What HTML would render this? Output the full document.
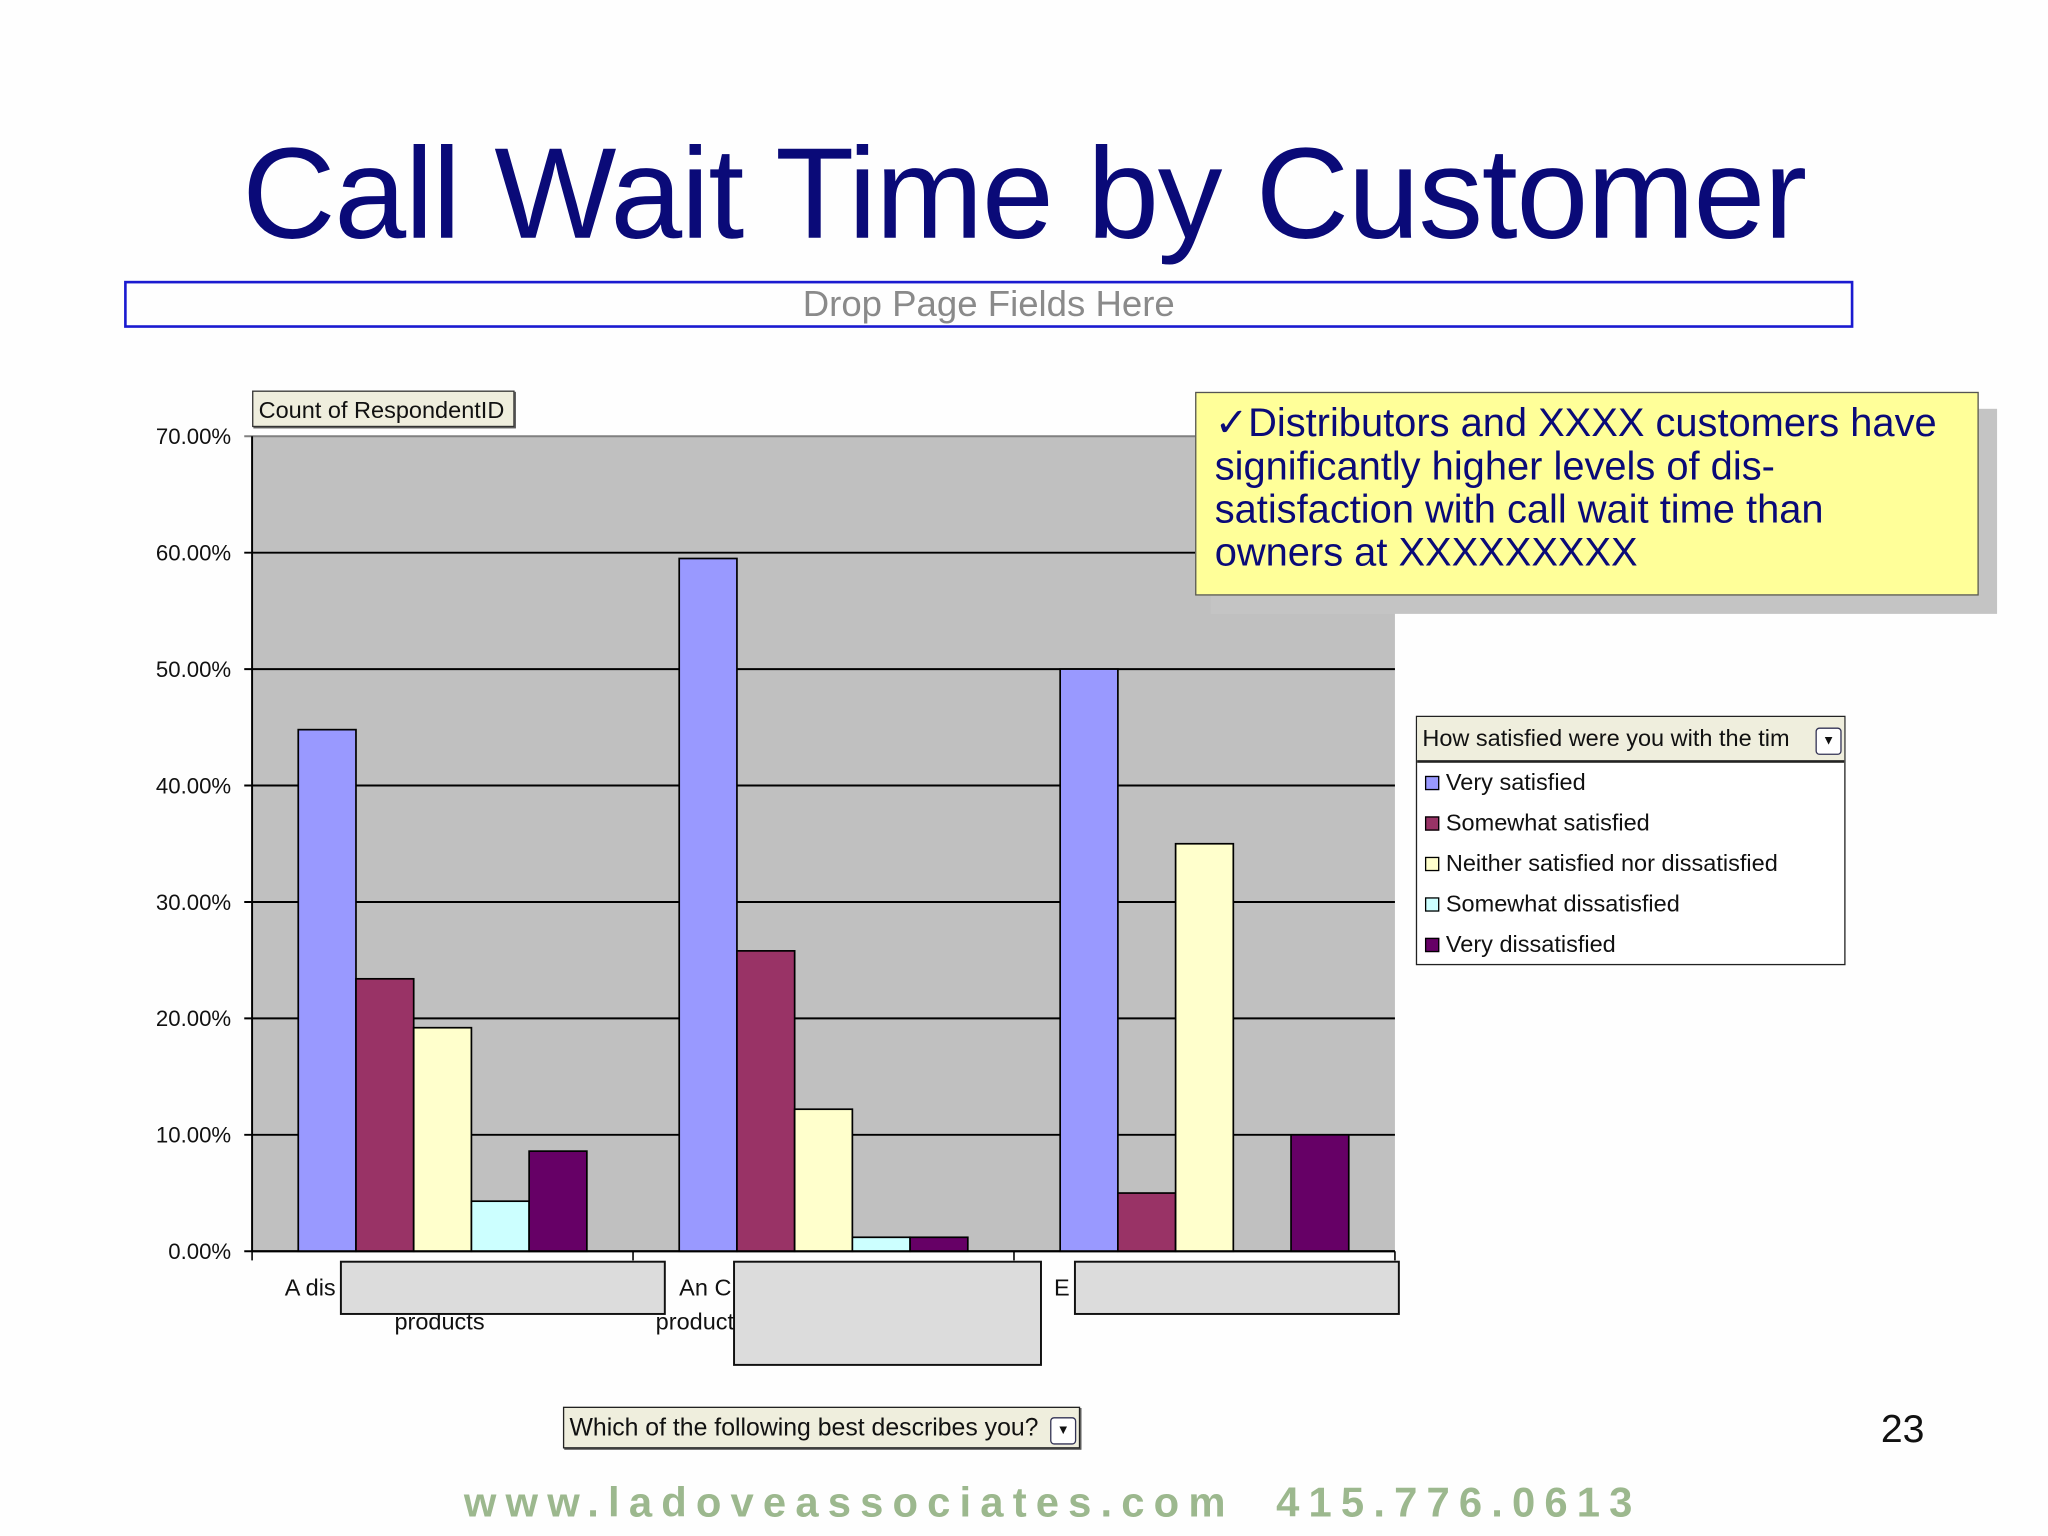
<!DOCTYPE html>
<html><head><meta charset="utf-8">
<style>
html,body{margin:0;padding:0;background:#fff;}
body{width:2048px;height:1536px;overflow:hidden;position:relative;}
#stage{position:absolute;left:0;top:0;width:1568px;height:1176px;transform:scale(1.30612);transform-origin:0 0;font-family:"Liberation Sans",sans-serif;background:#fefefe;}
.abs{position:absolute;}
</style></head>
<body>
<div id="stage">
  <div class="abs" style="left:0;width:1568px;top:88px;text-align:center;font-size:99px;color:#0a0a78;letter-spacing:-1px;padding-left:0px;line-height:120px;">Call Wait Time by Customer</div>
  <div class="abs" style="left:95px;top:215px;width:1320px;height:32px;border:2px solid #1a1ad0;text-align:center;font-size:28px;line-height:32px;color:#8a8a8a;">Drop Page Fields Here</div>
  <div class="abs" style="left:193px;top:299px;width:201px;height:28px;border:1px solid #333;box-shadow:1px 1px 0 #555;background:#efeedd;font-size:18px;line-height:28px;padding-left:4px;box-sizing:border-box;color:#111;">Count of RespondentID</div>

  <svg class="abs" style="left:0;top:0" width="1568" height="1176">
    <g id="chart"></g>
  </svg>

  <div class="abs" style="left:927px;top:313px;width:602px;height:157px;background:#c4c4c4;"></div>
  <div class="abs" style="left:915px;top:300px;width:600px;height:156px;background:#ffff99;border:1px solid #555;box-sizing:border-box;padding:7px 4px 0 14px;font-size:30.5px;line-height:33px;color:#0a0a78;white-space:nowrap;">✓Distributors and XXXX customers have<br>significantly higher levels of dis-<br>satisfaction with call wait time than<br>owners at XXXXXXXXX</div>

  <div class="abs" style="left:1084px;top:548px;width:329px;height:191px;border:1px solid #222;background:#fff;box-sizing:border-box;">
    <div style="height:33px;background:#efeedd;border-bottom:2px solid #222;font-size:18px;line-height:33px;padding-left:4px;position:relative;color:#111;">How satisfied were you with the tim<span style="position:absolute;right:2px;top:8px;width:18px;height:19px;border:1px solid #335;background:#fff;border-radius:3px;font-size:10px;line-height:19px;text-align:center;">▼</span></div>
    <div id="legend-items"></div>
  </div>

  <div class="abs" style="left:431px;top:1077px;width:396px;height:32px;border:1px solid #222;box-shadow:1px 1px 0 #555;background:#efeedd;font-size:19px;line-height:32px;padding-left:4px;box-sizing:border-box;color:#111;">Which of the following best describes you?<span style="position:absolute;right:2px;top:7px;width:18px;height:19px;border:1px solid #335;background:#fff;border-radius:3px;font-size:10px;line-height:19px;text-align:center;">▼</span></div>

  <div class="abs" style="left:1440px;top:1078px;font-size:30px;color:#111;">23</div>
  <div class="abs" style="left:0;width:1612px;top:1132px;text-align:center;font-size:32px;letter-spacing:7px;font-weight:bold;color:#9cb88e;">www.ladoveassociates.com&nbsp;&nbsp;415.776.0613</div>
</div>

<script>
const categories = ["A distributor of products", "An OEM of products", "End user"];
const seriesNames = ["Very satisfied","Somewhat satisfied","Neither satisfied nor dissatisfied","Somewhat dissatisfied","Very dissatisfied"];
const seriesColors = ["#9999ff","#993366","#ffffcc","#ccffff","#660066"];
const verySatisfied = [44.8, 59.5, 50.0];
const somewhatSatisfied = [23.4, 25.8, 5.0];
const neither = [19.2, 12.2, 35.0];
const somewhatDissatisfied = [4.3, 1.2, 0];
const veryDissatisfied = [8.6, 1.2, 10.0];
const yTicks = [0,10,20,30,40,50,60,70];
const yTickLabels = ["0.00%","10.00%","20.00%","30.00%","40.00%","50.00%","60.00%","70.00%"];

const series = [verySatisfied, somewhatSatisfied, neither, somewhatDissatisfied, veryDissatisfied];
const NS = "http://www.w3.org/2000/svg";
const L=193, R=1068, T=334, B=958, YMAX=70;
const y = v => B - (v/YMAX)*(B-T);
const catW = (R-L)/categories.length;
const x = i => L + i*catW;
const barW = catW/(series.length+1.6);
const g = document.getElementById('chart');
function mk(tag, attrs){const e=document.createElementNS(NS,tag);for(const k in attrs)e.setAttribute(k,attrs[k]);g.appendChild(e);return e;}

const bg = mk('rect',{x:L,y:T,width:R-L,height:B-T,fill:'#c0c0c0'});


yTicks.forEach((t,i)=>{
  const gl = mk('line',{x1:L-6,x2:R,y1:y(t),y2:y(t),stroke:i===yTicks.length-1?'#808080':'#000','stroke-width':1.5});
  
  
  const tx = mk('text',{x:177,y:y(t)+6,'text-anchor':'end','font-size':17,'font-family':'Liberation Sans, sans-serif',fill:'#111'});
  tx.textContent = yTickLabels[i];
  
  
});
series.forEach((s,si)=>{
  s.forEach((v,ci)=>{
    if(v<=0) return;
    const r = mk('rect',{x:x(ci)+0.8*barW+si*barW,y:y(v),width:barW,height:B-y(v),fill:seriesColors[si],stroke:'#000','stroke-width':1.3});
    
    
  });
});
const ax = mk('line',{x1:L,x2:L,y1:T,y2:B,stroke:'#000','stroke-width':1.5});


const xa = mk('line',{x1:L,x2:R,y1:B,y2:B,stroke:'#000','stroke-width':1.5});


for(let i=0;i<=categories.length;i++){
  const tk = mk('line',{x1:x(i),x2:x(i),y1:B,y2:B+7,stroke:'#000','stroke-width':1.2});
  
  
}
const lbl = [["A dis",218,992],["products",302,1018],["An C",520,992],["product",502,1018],["E",807,992]];
lbl.forEach(l=>{const t=mk('text',{x:l[1],y:l[2],'font-size':18,'font-family':'Liberation Sans, sans-serif',fill:'#111'});t.textContent=l[0];
  
  });
[[261,966,248,40],[562,966,235,79],[823,966,248,40]].forEach(b=>{
  const r=mk('rect',{x:b[0],y:b[1],width:b[2],height:b[3],fill:'#dcdcdc',stroke:'#111','stroke-width':1.5});
  
  
});

const li = document.getElementById('legend-items');
seriesNames.forEach((n,i)=>{
  const d=document.createElement('div');
  
  
  d.style.cssText='height:31px;font-size:18px;line-height:31px;padding-left:6px;color:#111;display:flex;align-items:center;';
  const sw=document.createElement('span');
  sw.style.cssText='display:inline-block;width:9px;height:9px;border:1px solid #000;margin-right:5px;background:'+seriesColors[i];
  d.appendChild(sw);
  d.appendChild(document.createTextNode(n));
  li.appendChild(d);
});
</script>
</body></html>
